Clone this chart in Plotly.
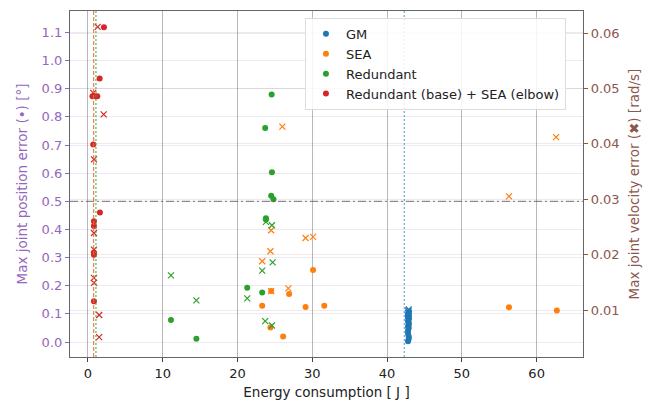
import plotly.graph_objects as go

# ---------------- data ----------------
# GM
gm_pos_energy = [42.8, 42.9, 42.9, 42.8, 42.8, 42.9, 42.8, 42.9, 42.9, 42.8, 42.9, 42.9, 42.8, 42.8, 42.9]
gm_pos = [0.003, 0.012, 0.02, 0.03, 0.04, 0.05, 0.055, 0.062, 0.068, 0.074, 0.08, 0.085, 0.09, 0.095, 0.1]
gm_vel_energy = [42.8, 42.9, 42.9, 42.8, 42.9, 42.8, 42.9]
gm_vel = [0.0090, 0.0092, 0.0094, 0.0095, 0.0097, 0.0099, 0.0101]

# SEA
sea_pos_energy = [23.3, 24.4, 24.5, 26.1, 26.9, 29.1, 30.1, 31.6, 56.3, 62.7]
sea_pos = [0.129, 0.052, 0.181, 0.02, 0.171, 0.125, 0.256, 0.129, 0.124, 0.112]
sea_vel_energy = [23.3, 24.4, 24.5, 24.5, 26.0, 26.8, 29.1, 30.1, 56.3, 62.6]
sea_vel = [0.0188, 0.0206, 0.0244, 0.0134, 0.0431, 0.0139, 0.0230, 0.0232, 0.0305, 0.0412]

# Redundant
red_pos_energy = [11.1, 14.5, 21.3, 23.3, 23.7, 23.8, 23.8, 24.5, 24.56, 24.6, 24.8]
red_pos = [0.078, 0.012, 0.193, 0.176, 0.76, 0.44, 0.435, 0.52, 0.879, 0.603, 0.507]
red_vel_energy = [11.1, 14.5, 21.3, 23.3, 23.7, 23.8, 24.6, 24.6, 24.7]
red_vel = [0.01625, 0.01175, 0.0121, 0.0171, 0.0080, 0.0259, 0.0253, 0.0072, 0.0186]

# Redundant (base) + SEA (elbow)
rs_pos_energy = [2.14, 1.56, 0.6, 0.9, 1.25, 0.71, 1.6, 0.8, 0.8, 0.8, 0.8, 0.8]
rs_pos = [1.118, 0.936, 0.873, 0.873, 0.873, 0.702, 0.46, 0.429, 0.412, 0.318, 0.31, 0.145]
rs_vel_energy = [1.3, 0.71, 2.1, 0.8, 0.8, 0.8, 0.8, 0.8, 1.5, 1.5]
rs_vel = [0.0611, 0.0492, 0.0453, 0.0372, 0.0239, 0.0209, 0.0158, 0.0149, 0.0091, 0.0051]

series_names = ["GM", "SEA", "Redundant", "Redundant (base) + SEA (elbow)"]
series_colors = ["#1f77b4", "#ff7f0e", "#2ca02c", "#d62728"]

# reference lines
vline_x = [42.3, 0.76, 1.07]
vline_colors = ["#4f9bd3", "#f26a30", "#3aaa3a"]
vline_dash = ["2px,2px", "4px,2px", "2px,2px"]
hline_y = 0.5

x_ticks = [0, 10, 20, 30, 40, 50, 60]
y_ticks = [0.0, 0.1, 0.2, 0.3, 0.4, 0.5, 0.6, 0.7, 0.8, 0.9, 1.0, 1.1]
y2_ticks = [0.01, 0.02, 0.03, 0.04, 0.05, 0.06]

# ---------------- figure ----------------
FONT = "DejaVu Sans"
POS_COLOR = "#9467bd"
VEL_COLOR = "#8c564b"

fig = go.Figure()

pos_sets = [(gm_pos_energy, gm_pos), (sea_pos_energy, sea_pos),
            (red_pos_energy, red_pos), (rs_pos_energy, rs_pos)]
vel_sets = [(gm_vel_energy, gm_vel), (sea_vel_energy, sea_vel),
            (red_vel_energy, red_vel), (rs_vel_energy, rs_vel)]

for (xe, ye), name, col in zip(vel_sets, series_names, series_colors):
    fig.add_trace(go.Scatter(
        x=xe, y=ye, mode="markers", yaxis="y2", showlegend=False, name=name,
        marker=dict(symbol="x-thin", size=6, color=col,
                    line=dict(color=col, width=1.2))))

for (xe, ye), name, col in zip(pos_sets, series_names, series_colors):
    fig.add_trace(go.Scatter(
        x=xe, y=ye, mode="markers", yaxis="y", name=name,
        marker=dict(symbol="circle", size=6, color=col, line=dict(width=0))))

shapes = []
for xv, c, d in zip(vline_x, vline_colors, vline_dash):
    shapes.append(dict(type="line", xref="x", yref="paper", x0=xv, x1=xv, y0=0, y1=1,
                       line=dict(color=c, width=1.2, dash=d), layer="above", opacity=0.85))
shapes.append(dict(type="line", xref="paper", yref="y", x0=0, x1=1, y0=hline_y, y1=hline_y,
                   line=dict(color="#555555", width=1, dash="8px,3px,2px,3px"), opacity=0.8))

# page body has an 8px margin, so the figure is made 8px smaller on left/top
fig.update_layout(
    width=645, height=392,
    margin=dict(l=62, r=70, t=3, b=43),
    paper_bgcolor="white", plot_bgcolor="white",
    font=dict(family=FONT, size=12.5, color="#222222"),
    shapes=shapes,
    xaxis=dict(
        range=[-2.4, 66.2], tickvals=x_ticks, ticktext=[str(t) for t in x_ticks],
        showgrid=True, gridcolor="#b8b8b8", gridwidth=1, automargin=False,
        showline=True, linecolor="#666666", linewidth=1.2, mirror=True,
        ticks="outside", ticklen=4, tickcolor="#444444",
        tickfont=dict(size=13, color="#222222"), zeroline=False,
        title=dict(text="Energy consumption [ J ]", font=dict(size=13.5, color="#222222"), standoff=9),
    ),
    yaxis=dict(
        range=[-0.053, 1.176], tickvals=y_ticks, ticktext=[f"{t:.1f}" for t in y_ticks],
        showgrid=True, gridcolor="rgba(148,103,189,0.16)", gridwidth=1, automargin=False,
        showline=True, linecolor="#666666", linewidth=1.2,
        ticks="outside", ticklen=4, tickcolor=POS_COLOR,
        tickfont=dict(size=13, color=POS_COLOR), zeroline=False,
        title=dict(text="Max joint position error (•) [°]", font=dict(size=13.5, color=POS_COLOR), standoff=10),
    ),
    yaxis2=dict(
        range=[0.00152, 0.06397], tickvals=y2_ticks, ticktext=[f"{t:.2f}" for t in y2_ticks],
        overlaying="y", side="right", automargin=False,
        showgrid=True, gridcolor="rgba(140,86,75,0.13)", gridwidth=1,
        showline=True, linecolor="#666666", linewidth=1.2,
        ticks="outside", ticklen=4, tickcolor=VEL_COLOR,
        tickfont=dict(size=13, color=VEL_COLOR), zeroline=False,
        title=dict(text="Max joint velocity error (✖) [rad/s]", font=dict(size=13.5, color=VEL_COLOR), standoff=10),
    ),
    legend=dict(
        x=0.458, y=0.98, xanchor="left", yanchor="top",
        bgcolor="rgba(255,255,255,0.85)", bordercolor="#dddddd", borderwidth=1,
        font=dict(size=13, color="#222222"), tracegroupgap=0, itemsizing="trace",
    ),
)

fig.write_html("out.html")
